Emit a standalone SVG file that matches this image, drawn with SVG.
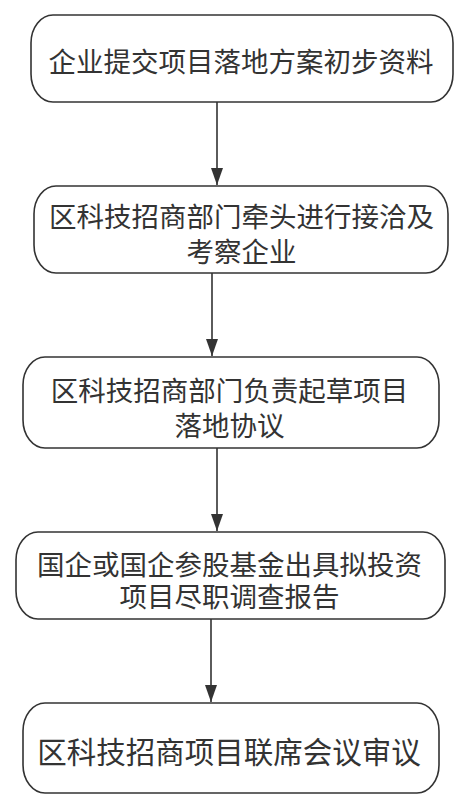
<svg xmlns="http://www.w3.org/2000/svg" width="472" height="799" viewBox="0 0 472 799">
<style>
.box{fill:#fff;stroke:#333;stroke-width:1.6}
.t{font-family:"Noto Sans CJK SC","Microsoft YaHei",sans-serif;font-size:27.5px;fill:#333;text-anchor:middle;dominant-baseline:central}
.big{font-size:29.5px}
.c{stroke:#333;stroke-width:1.6;fill:none;marker-end:url(#ah)}
</style>
<defs>
<marker id="ah" markerUnits="userSpaceOnUse" markerWidth="18" markerHeight="12" refX="17" refY="6" orient="auto" viewBox="0 0 18 12">
<path d="M0,0 L17,6 L0,12 Z" fill="#333"/>
</marker>
</defs>
<rect width="472" height="799" fill="#fff"/>
<g id="connectors">
<path class="c" d="M217,102 V185"/>
<path class="c" d="M212,273 V356"/>
<path class="c" d="M217,448 V531"/>
<path class="c" d="M211,619 V702"/>
</g>
<g id="n1">
<rect class="box" x="31" y="15" width="422" height="87" rx="22" ry="28"/>
<text class="t" x="241" y="60">企业提交项目落地方案初步资料</text>
</g>
<g id="n2">
<rect class="box" x="34" y="186" width="414" height="87" rx="22" ry="28"/>
<text class="t" x="241.5" y="214.5">区科技招商部门牵头进行接洽及<tspan x="241.5" y="250">考察企业</tspan></text>
</g>
<g id="n3">
<rect class="box" x="23" y="357" width="416" height="91" rx="22" ry="28"/>
<text class="t" x="229.5" y="388.5">区科技招商部门负责起草项目<tspan x="229.5" y="423.5">落地协议</tspan></text>
</g>
<g id="n4">
<rect class="box" x="16" y="532" width="429" height="87" rx="22" ry="28"/>
<text class="t" x="229.5" y="563">国企或国企参股基金出具拟投资<tspan x="229.5" y="594.5">项目尽职调查报告</tspan></text>
</g>
<g id="n5">
<rect class="box" x="23" y="703" width="416" height="90" rx="22" ry="28"/>
<text class="t big" x="229" y="750">区科技招商项目联席会议审议</text>
</g>
</svg>
